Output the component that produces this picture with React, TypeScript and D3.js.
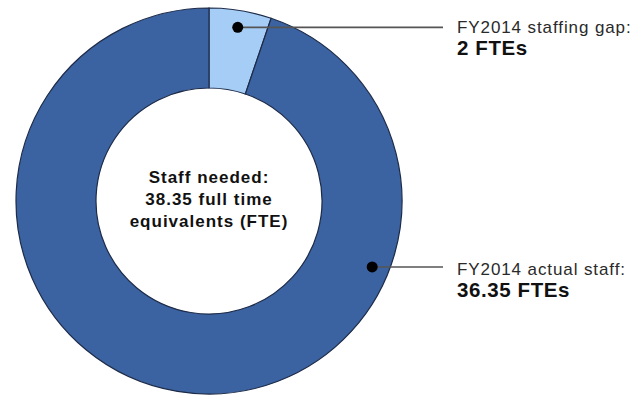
import React from "react";
import * as d3 from "d3";

const categories = ["FY2014 staffing gap:", "FY2014 actual staff:"];
const values = [2, 36.35];
const valueLabels = ["2 FTEs", "36.35 FTEs"];
const colors = ["#a6cdf6", "#3b63a2"];
const centerLines = ["Staff needed:", "38.35 full time", "equivalents (FTE)"];
// angle (degrees clockwise from top) at which each slice's callout dot sits
const calloutAngles = [9.4, 112];
const calloutTextY = [33, 275];

export default function App() {
  const W = 639, H = 398;
  const cx = 209, cy = 201;
  const rOuter = 193, rInner = 113;
  const pie = d3.pie<number>().sort(null).startAngle(0).endAngle(2 * Math.PI);
  const arcs = pie(values);
  const arc = d3.arc<d3.PieArcDatum<number>>().innerRadius(rInner).outerRadius(rOuter);
  const lineEndX = 443;
  const textX = 457;
  const dotR = rOuter - 17;

  return (
    <svg width={W} height={H} style={{ position: "absolute", left: 0, top: 0 }}>
      <rect width={W} height={H} fill="#fff" />
      <g transform={`translate(${cx},${cy})`}>
        {arcs.map((a, i) => (
          <path key={i} d={arc(a) || ""} fill={colors[i]} stroke="#1d2b48" strokeWidth={1.2} />
        ))}
      </g>
      {arcs.map((a, i) => {
        const ang = (calloutAngles[i] * Math.PI) / 180;
        const dx = cx + dotR * Math.sin(ang);
        const dy = cy - dotR * Math.cos(ang);
        const ty = calloutTextY[i];
        return (
          <g key={"c" + i}>
            <line x1={dx} y1={dy} x2={lineEndX} y2={dy} stroke="#555" strokeWidth={1.6} />
            <circle cx={dx} cy={dy} r={5.5} fill="#000" />
            <text x={textX} y={ty} fontFamily="Liberation Sans, Arial, sans-serif" fontSize={17} fill="#2a2a2a" letterSpacing={0.9}>
              {categories[i]}
            </text>
            <text x={textX} y={ty + 22} fontFamily="Liberation Sans, Arial, sans-serif" fontSize={20.5} fontWeight="bold" fill="#111" letterSpacing={0.6}>
              {valueLabels[i]}
            </text>
          </g>
        );
      })}
      {centerLines.map((t, i) => (
        <text key={"t" + i} x={cx} y={183 + i * 22} textAnchor="middle" fontFamily="Liberation Sans, Arial, sans-serif" fontSize={17} fontWeight="bold" fill="#111" letterSpacing={1}>
          {t}
        </text>
      ))}
    </svg>
  );
}
